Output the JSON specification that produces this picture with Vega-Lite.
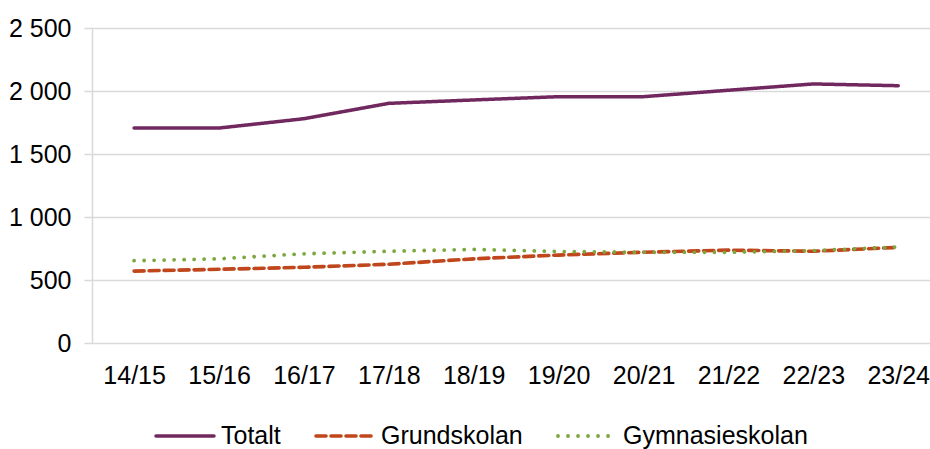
{
  "$schema": "https://vega.github.io/schema/vega-lite/v6.json",
  "width": 838,
  "height": 315,
  "autosize": {"type": "none"},
  "padding": {"left": 92, "top": 28, "right": 0, "bottom": 106},
  "background": "white",
  "config": {
    "font": "Liberation Sans",
    "view": {"stroke": null},
    "axis": {"labelFont": "Liberation Sans", "labelFontSize": 25, "labelColor": "#000000"},
    "legend": {"labelFont": "Liberation Sans", "labelFontSize": 25, "labelColor": "#000000"}
  },
  "data": {
    "values": [
      {"year": "14/15", "series": "Totalt", "value": 1706},
      {"year": "15/16", "series": "Totalt", "value": 1706},
      {"year": "16/17", "series": "Totalt", "value": 1780},
      {"year": "17/18", "series": "Totalt", "value": 1902},
      {"year": "18/19", "series": "Totalt", "value": 1929},
      {"year": "19/20", "series": "Totalt", "value": 1955},
      {"year": "20/21", "series": "Totalt", "value": 1955},
      {"year": "21/22", "series": "Totalt", "value": 2006},
      {"year": "22/23", "series": "Totalt", "value": 2056},
      {"year": "23/24", "series": "Totalt", "value": 2042},
      {"year": "14/15", "series": "Grundskolan", "value": 571},
      {"year": "15/16", "series": "Grundskolan", "value": 585},
      {"year": "16/17", "series": "Grundskolan", "value": 601},
      {"year": "17/18", "series": "Grundskolan", "value": 625},
      {"year": "18/19", "series": "Grundskolan", "value": 668},
      {"year": "19/20", "series": "Grundskolan", "value": 698},
      {"year": "20/21", "series": "Grundskolan", "value": 720},
      {"year": "21/22", "series": "Grundskolan", "value": 737},
      {"year": "22/23", "series": "Grundskolan", "value": 728},
      {"year": "23/24", "series": "Grundskolan", "value": 759},
      {"year": "14/15", "series": "Gymnasieskolan", "value": 653},
      {"year": "15/16", "series": "Gymnasieskolan", "value": 668},
      {"year": "16/17", "series": "Gymnasieskolan", "value": 708},
      {"year": "17/18", "series": "Gymnasieskolan", "value": 728},
      {"year": "18/19", "series": "Gymnasieskolan", "value": 743},
      {"year": "19/20", "series": "Gymnasieskolan", "value": 726},
      {"year": "20/21", "series": "Gymnasieskolan", "value": 720},
      {"year": "21/22", "series": "Gymnasieskolan", "value": 720},
      {"year": "22/23", "series": "Gymnasieskolan", "value": 733},
      {"year": "23/24", "series": "Gymnasieskolan", "value": 762}
    ]
  },
  "mark": {"type": "line", "strokeCap": "round"},
  "encoding": {
    "x": {
      "field": "year",
      "type": "ordinal",
      "sort": null,
      "scale": {"type": "point", "padding": 0.435, "align": 0.57},
      "axis": {
        "title": null,
        "labelAngle": 0,
        "domain": false,
        "ticks": false,
        "grid": false,
        "labelPadding": 20
      }
    },
    "y": {
      "field": "value",
      "type": "quantitative",
      "scale": {"domain": [0, 2500], "nice": false},
      "axis": {
        "title": null,
        "values": [0, 500, 1000, 1500, 2000, 2500],
        "labelExpr": "replace(format(datum.value, ','), ',', ' ')",
        "domain": true,
        "domainColor": "#d9d9d9",
        "domainWidth": 1.5,
        "ticks": true,
        "tickSize": 8,
        "tickColor": "#d9d9d9",
        "tickWidth": 1.5,
        "grid": true,
        "gridColor": "#d9d9d9",
        "gridWidth": 1.5,
        "labelPadding": 13
      }
    },
    "color": {
      "field": "series",
      "type": "nominal",
      "sort": ["Totalt", "Grundskolan", "Gymnasieskolan"],
      "scale": {"domain": ["Totalt", "Grundskolan", "Gymnasieskolan"], "range": ["#70285F", "#C0461C", "#7BA73E"]},
      "legend": {
        "title": null,
        "orient": "none",
        "direction": "horizontal",
        "legendX": 62,
        "legendY": 377,
        "symbolType": "stroke",
        "symbolSize": 3364,
        "labelOffset": 5,
        "labelLimit": 400,
        "columnPadding": 27,
        "encode": {"symbols": {"update": {"strokeCap": {"value": "round"}}}}
      }
    },
    "strokeDash": {
      "field": "series",
      "type": "nominal",
      "sort": ["Totalt", "Grundskolan", "Gymnasieskolan"],
      "scale": {"domain": ["Totalt", "Grundskolan", "Gymnasieskolan"], "range": [[1, 0], [10, 5], [0.01, 10]]},
      "legend": null
    },
    "strokeWidth": {
      "field": "series",
      "type": "nominal",
      "sort": ["Totalt", "Grundskolan", "Gymnasieskolan"],
      "scale": {"domain": ["Totalt", "Grundskolan", "Gymnasieskolan"], "range": [3.5, 3.8, 4.8]},
      "legend": null
    }
  }
}
